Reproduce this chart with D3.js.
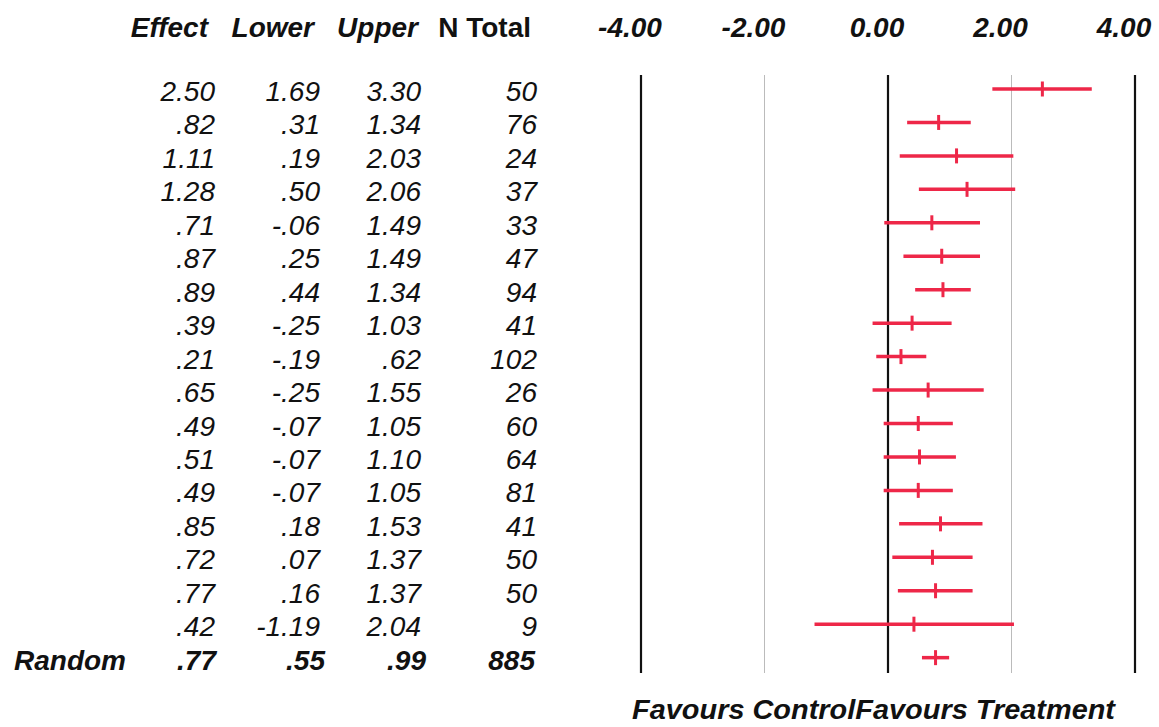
<!DOCTYPE html>
<html>
<head>
<meta charset="utf-8">
<script src="https://cdn.jsdelivr.net/npm/d3@7"></script>
<style>
  body { margin: 0; background: #fff; }
  text { font-family: "Liberation Sans", Arial, Helvetica, sans-serif; fill: #111; }
</style>
</head>
<body>
<div id="forest"></div>
<script>
"use strict";

// data ******************************************************************
var effect = [2.50, .82, 1.11, 1.28, .71, .87, .89, .39, .21, .65, .49, .51, .49, .85, .72, .77, .42];
var lower  = [1.69, .31, .19, .50, -.06, .25, .44, -.25, -.19, -.25, -.07, -.07, -.07, .18, .07, .16, -1.19];
var upper  = [3.30, 1.34, 2.03, 2.06, 1.49, 1.49, 1.34, 1.03, .62, 1.55, 1.05, 1.10, 1.05, 1.53, 1.37, 1.37, 2.04];
var nTotal = [50, 76, 24, 37, 33, 47, 94, 41, 102, 26, 60, 64, 81, 41, 50, 50, 9];

var pooledLabel = "Random";
var pooled = { effect: .77, lower: .55, upper: .99, n: 885 };

var tickValues = [-4, -2, 0, 2, 4];
var heavyTicks = [-4, 0, 4];
var headers = ["Effect", "Lower", "Upper", "N Total"];
var footer = "Favours ControlFavours Treatment";

// variables *************************************************************
var width = 1159;
var height = 727;
var red = "#ee2748";
var fontSize = "28px";

var fmt2 = d3.format(".2f");
// plain hyphen for minus, as in the original print
function tickFmt(v) {
  return fmt2(v).replace("\u2212", "-");
}
// table values drop the leading zero: .82, -.06
function fmt(v) {
  return tickFmt(v).replace(/^(-?)0\./, "$1.");
}

var rowCount = effect.length + 1;
var y = d3.scaleLinear().domain([0, rowCount - 1]).range([89, 89 + 33.45 * (rowCount - 1)]);
var x = d3.scaleLinear().domain([-4, 4]).range([641, 1135]);

var lineTop = 75;
var lineBottom = 673;

// columns: right edge of header and of values
var headerRight = [208, 314, 418, 531];
var colRight = [215, 320, 421, 537];
var pooledRight = [216, 325, 426, 535];

var svg = d3.select("#forest")
  .append("svg")
  .attr("width", width)
  .attr("height", height);

// header *****************************************************************
svg.selectAll(".head")
  .data(headers)
  .enter()
  .append("text")
  .attr("class", "head")
  .attr("x", function(d, i) { return headerRight[i]; })
  .attr("y", 37)
  .attr("text-anchor", "end")
  .style("font-size", fontSize)
  .style("font-weight", "bold")
  .style("font-style", function(d) { return d === "N Total" ? "normal" : "italic"; })
  .text(function(d) { return d; });

// axis labels and vertical lines ****************************************
svg.selectAll(".tickLabel")
  .data(tickValues)
  .enter()
  .append("text")
  .attr("class", "tickLabel")
  .attr("x", function(d) { return x(d) - 11; })
  .attr("y", 37)
  .attr("text-anchor", "middle")
  .style("font-size", fontSize)
  .style("font-weight", "bold")
  .style("font-style", "italic")
  .text(function(d) { return tickFmt(d); });

svg.selectAll(".vline")
  .data(tickValues)
  .enter()
  .append("line")
  .attr("class", "vline")
  .attr("x1", function(d) { return x(d); })
  .attr("x2", function(d) { return x(d); })
  .attr("y1", lineTop)
  .attr("y2", lineBottom)
  .attr("stroke", function(d) { return heavyTicks.indexOf(d) >= 0 ? "#111" : "#bbb"; })
  .attr("stroke-width", function(d) { return heavyTicks.indexOf(d) >= 0 ? 2.2 : 1; });

// table rows *************************************************************
var rows = effect.map(function(e, i) {
  return { effect: e, lower: lower[i], upper: upper[i], n: nTotal[i] };
});

var rowG = svg.selectAll(".row")
  .data(rows)
  .enter()
  .append("g")
  .attr("class", "row")
  .attr("transform", function(d, i) { return "translate(0," + (y(i) + 12) + ")"; });

rowG.selectAll("text")
  .data(function(d) { return [fmt(d.effect), fmt(d.lower), fmt(d.upper), String(d.n)]; })
  .enter()
  .append("text")
  .attr("x", function(d, i) { return colRight[i]; })
  .attr("text-anchor", "end")
  .style("font-size", fontSize)
  .style("font-style", "italic")
  .text(function(d) { return d; });

// pooled row
var pooledG = svg.append("g")
  .attr("transform", "translate(0," + (y(rowCount - 1) + 12) + ")")
  .style("font-size", fontSize)
  .style("font-weight", "bold")
  .style("font-style", "italic");

pooledG.append("text")
  .attr("x", 14)
  .text(pooledLabel);

pooledG.selectAll(".pv")
  .data([fmt(pooled.effect), fmt(pooled.lower), fmt(pooled.upper), String(pooled.n)])
  .enter()
  .append("text")
  .attr("class", "pv")
  .attr("x", function(d, i) { return pooledRight[i]; })
  .attr("text-anchor", "end")
  .text(function(d) { return d; });

// intervals **************************************************************
var allRows = rows.concat([pooled]);

svg.selectAll(".ci")
  .data(allRows)
  .enter()
  .append("line")
  .attr("class", "ci")
  .attr("x1", function(d) { return x(d.lower); })
  .attr("x2", function(d) { return x(d.upper); })
  .attr("y1", function(d, i) { return y(i); })
  .attr("y2", function(d, i) { return y(i); })
  .attr("stroke", red)
  .attr("stroke-width", 3.5);

svg.selectAll(".est")
  .data(allRows)
  .enter()
  .append("line")
  .attr("class", "est")
  .attr("x1", function(d) { return x(d.effect); })
  .attr("x2", function(d) { return x(d.effect); })
  .attr("y1", function(d, i) { return y(i) - 7.5; })
  .attr("y2", function(d, i) { return y(i) + 7.5; })
  .attr("stroke", red)
  .attr("stroke-width", 3);

// footer *****************************************************************
svg.append("text")
  .attr("x", 632)
  .attr("y", 719)
  .attr("textLength", 483)
  .attr("lengthAdjust", "spacingAndGlyphs")
  .style("font-size", "27px")
  .style("font-weight", "bold")
  .style("font-style", "italic")
  .text(footer);
</script>
</body>
</html>
